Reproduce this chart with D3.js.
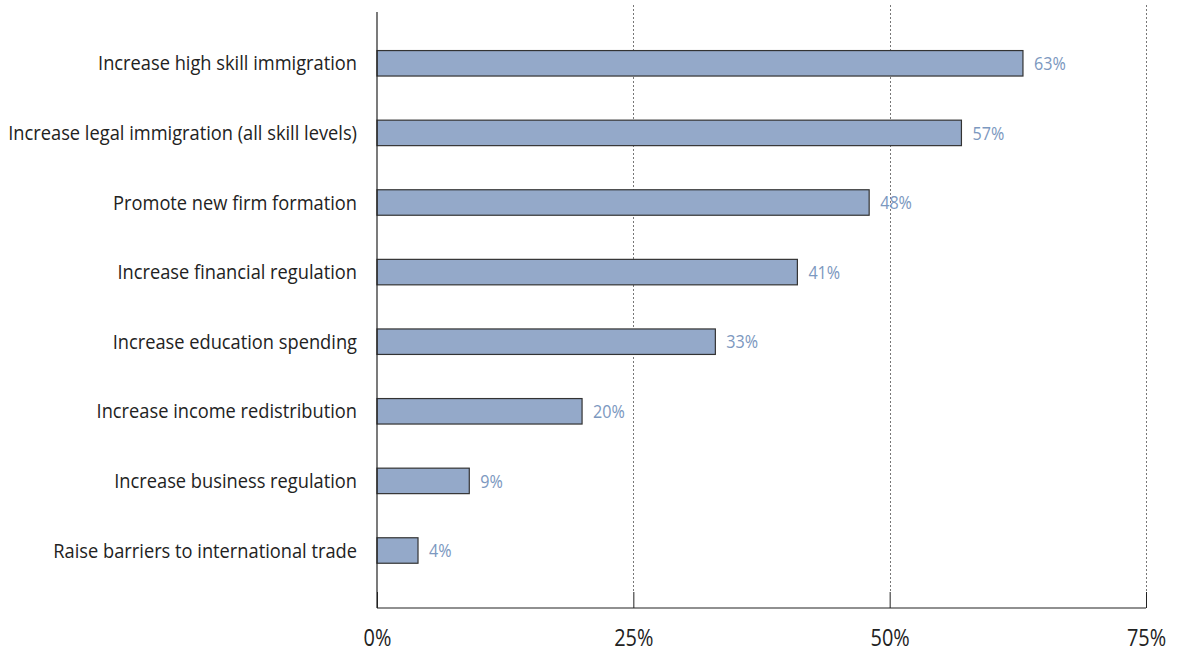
<!DOCTYPE html>
<html>
<head>
<meta charset="utf-8">
<script src="https://cdn.jsdelivr.net/npm/d3@7"></script>
<style>
  html, body { margin: 0; padding: 0; background: #fff; }
  svg { display: block; }
  text { font-family: "Open Sans", "DejaVu Sans", sans-serif; }
</style>
</head>
<body>
<svg id="chart" width="1177" height="652"></svg>
<script>
// Share of respondents favouring each policy
const categories = [
  "Increase high skill immigration",
  "Increase legal immigration (all skill levels)",
  "Promote new firm formation",
  "Increase financial regulation",
  "Increase education spending",
  "Increase income redistribution",
  "Increase business regulation",
  "Raise barriers to international trade"
];
const values = [63, 57, 48, 41, 33, 20, 9, 4];
const valueLabels = ["63%", "57%", "48%", "41%", "33%", "20%", "9%", "4%"];
const xTicks = [0, 25, 50, 75];
const xTickLabels = ["0%", "25%", "50%", "75%"];

const svg = d3.select("#chart");
const axisX0 = 377, axisX1 = 1146, axisTop = 12, axisBottom = 608;
const labelRight = 357, labelLeftLimit = 8;

const x = d3.scaleLinear().domain([0, 75]).range([axisX0, axisX1]);
const y = d3.scaleBand()
  .domain(categories)
  .range([28.5, 585.3])
  .paddingInner(0.634)
  .paddingOuter(0.317);

// dotted gridlines
svg.append("g").selectAll("line")
  .data(xTicks.filter(t => t > 0))
  .join("line")
  .attr("x1", d => Math.round(x(d)) + 0.5)
  .attr("x2", d => Math.round(x(d)) + 0.5)
  .attr("y1", 5)
  .attr("y2", axisBottom - 16)
  .attr("stroke", "#777")
  .attr("stroke-width", 1)
  .attr("stroke-dasharray", "2,2");

// bars
svg.append("g").selectAll("rect")
  .data(values)
  .join("rect")
  .attr("x", x(0))
  .attr("y", (d, i) => y(categories[i]))
  .attr("width", d => x(d) - x(0))
  .attr("height", y.bandwidth())
  .attr("fill", "#94a9c9")
  .attr("stroke", "#333")
  .attr("stroke-width", 1.2);

// value labels, slightly condensed
svg.append("g").selectAll("text")
  .data(values)
  .join("text")
  .attr("transform", (d, i) => `translate(${x(d) + 11},${y(categories[i]) + y.bandwidth() / 2}) scale(0.85,1)`)
  .attr("dy", "0.35em")
  .attr("fill", "#7c98c0")
  .attr("font-size", 19)
  .text((d, i) => valueLabels[i]);

// category labels
const catText = svg.append("g").selectAll("text")
  .data(categories)
  .join("text")
  .attr("dy", "0.35em")
  .attr("text-anchor", "end")
  .attr("fill", "#222")
  .attr("font-size", 20)
  .text(d => d);

// fit the longest label into the left margin
let maxW = 0;
catText.each(function () { maxW = Math.max(maxW, this.getComputedTextLength()); });
const catScale = Math.min(1, (labelRight - labelLeftLimit) / maxW);
catText.attr("transform", d => `translate(${labelRight},${y(d) + y.bandwidth() / 2}) scale(${catScale},1)`);

// bottom axis with inward ticks
const xAxis = d3.axisBottom(x)
  .tickValues(xTicks)
  .tickSize(-16)
  .tickFormat((d, i) => xTickLabels[i]);

const gx = svg.append("g")
  .attr("transform", `translate(0,${axisBottom})`)
  .call(xAxis);
gx.select(".domain").attr("stroke", "#222").attr("stroke-width", 1.2)
  .attr("d", `M${axisX0},0H${axisX1}`);
gx.selectAll(".tick line").attr("stroke", "#222");
gx.selectAll(".tick text")
  .attr("y", 0)
  .attr("dy", 0)
  .attr("font-family", "\"Open Sans\", sans-serif")
  .attr("font-size", 24)
  .attr("fill", "#222")
  .attr("transform", "translate(0,38) scale(0.83,1)");

// left axis line
svg.append("line")
  .attr("x1", axisX0).attr("x2", axisX0)
  .attr("y1", axisTop).attr("y2", axisBottom)
  .attr("stroke", "#222")
  .attr("stroke-width", 1.2);
</script>
</body>
</html>
